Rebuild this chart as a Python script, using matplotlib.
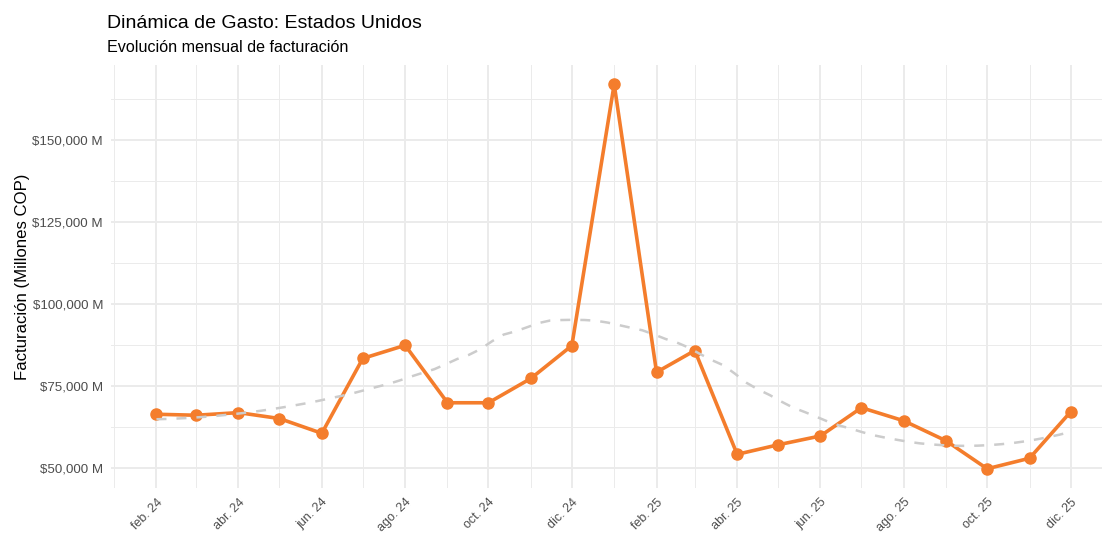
import numpy as np
import matplotlib
matplotlib.use("Agg")
import matplotlib.pyplot as plt
import matplotlib.dates as mdates
from matplotlib.ticker import FuncFormatter, FixedLocator
from datetime import date, timedelta

plt.rcParams['font.family'] = ['Liberation Sans', 'DejaVu Sans']

# monthly billing, millions COP (feb 2024 .. dic 2025)
months = [date(2024, m, 1) for m in range(2, 13)] + [date(2025, m, 1) for m in range(1, 13)]
facturacion = [66500, 66200, 67000, 65200, 60700, 83500, 87500, 70000, 70000,
               77400, 87400, 167000, 79300, 85900, 54300, 57200, 59900, 68500,
               64500, 58400, 49900, 53100, 67200]

tick_months = [date(2024, m, 1) for m in (2, 4, 6, 8, 10, 12)] + \
              [date(2025, m, 1) for m in (2, 4, 6, 8, 10, 12)]
tick_labels = ["feb. 24", "abr. 24", "jun. 24", "ago. 24", "oct. 24", "dic. 24",
               "feb. 25", "abr. 25", "jun. 25", "ago. 25", "oct. 25", "dic. 25"]
minor_months = [date(2024, m, 1) for m in (1, 3, 5, 7, 9, 11)] + \
               [date(2025, m, 1) for m in (1, 3, 5, 7, 9, 11)]
y_major = [50000, 75000, 100000, 125000, 150000]
y_minor = [62500, 87500, 112500, 137500, 162500]

ORANGE = "#F47D2C"


def local_fit(x, y, x0, q):
    # local quadratic with tricube weights -> value and slope at x0
    d = np.abs(x - x0)
    h = np.sort(d)[q - 1]
    u = np.clip(d / h, 0, 1)
    w = (1 - u ** 3) ** 3
    c = np.polyfit(x - x0, y, 2, w=np.sqrt(w))
    return c[-1], c[-2]


def loess(x, y, xs, span=0.75):
    # local fits at the data midpoints, joined with cubic hermite pieces
    n = len(x)
    q = int(np.floor(n * span))
    xsrt = np.sort(x)
    verts = np.concatenate([[xsrt[0]], (xsrt[:-1] + xsrt[1:]) / 2, [xsrt[-1]]])
    vals = np.array([local_fit(x, y, v, q) for v in verts])
    out = []
    for t in xs:
        i = min(max(np.searchsorted(verts, t) - 1, 0), len(verts) - 2)
        x0, x1 = verts[i], verts[i + 1]
        hh = x1 - x0
        s = (t - x0) / hh
        f0, d0 = vals[i]
        f1, d1 = vals[i + 1]
        h00 = 2 * s**3 - 3 * s**2 + 1
        h10 = s**3 - 2 * s**2 + s
        h01 = -2 * s**3 + 3 * s**2
        h11 = s**3 - s**2
        out.append(h00 * f0 + h10 * hh * d0 + h01 * f1 + h11 * hh * d1)
    return np.array(out)


xnum = mdates.date2num(months)
yv = np.array(facturacion, dtype=float)
xs = np.linspace(xnum[0], xnum[-1], 80)
ys = loess(xnum, yv, xs)

fig = plt.figure(figsize=(11.02, 5.34), dpi=100)
ax = fig.add_axes([111.4 / 1102, 46 / 534, 1004.2 / 1102, 423 / 534])
ax.set_facecolor("white")

ax.plot(months, facturacion, color=ORANGE, lw=2.6, zorder=3,
        marker="o", markersize=8, solid_capstyle="round")
ax.plot(mdates.num2date(xs), ys, color="#CCCCCC", lw=1.8,
        linestyle=(0, (4, 4)), zorder=4)

span_days = (months[-1] - months[0]).days * 0.05
ax.set_xlim(months[0] - timedelta(days=span_days), months[-1] + timedelta(days=span_days))
rng = max(facturacion) - min(facturacion)
ax.set_ylim(min(facturacion) - 0.05 * rng, max(facturacion) + 0.05 * rng)

ax.xaxis.set_major_locator(FixedLocator(mdates.date2num(tick_months)))
ax.xaxis.set_minor_locator(FixedLocator(mdates.date2num(minor_months)))
ax.set_xticklabels(tick_labels, rotation=45, ha="right", va="top",
                   rotation_mode="anchor")
ax.yaxis.set_major_locator(FixedLocator(y_major))
ax.yaxis.set_minor_locator(FixedLocator(y_minor))
ax.yaxis.set_major_formatter(FuncFormatter(lambda v, p: f"${v:,.0f} M"))

ax.grid(which="major", color="#EBEBEB", lw=1.4)
ax.grid(which="minor", color="#EBEBEB", lw=0.7)
ax.set_axisbelow(True)
for s in ax.spines.values():
    s.set_visible(False)
ax.tick_params(which="both", length=0)
ax.tick_params(axis="y", labelsize=9.6, labelcolor="#4D4D4D", pad=6)
ax.tick_params(axis="x", labelsize=9.0, labelcolor="#4D4D4D", pad=6)

ax.set_ylabel("Facturación (Millones COP)", fontsize=12.1, color="black", labelpad=2)

fig.text(107 / 1102, 1 - 28 / 534, "Dinámica de Gasto: Estados Unidos",
         fontsize=14, color="black", ha="left", va="baseline")
fig.text(107 / 1102, 1 - 52 / 534, "Evolución mensual de facturación",
         fontsize=11.6, color="black", ha="left", va="baseline")

fig.savefig("out.png", dpi=100, facecolor="white")
